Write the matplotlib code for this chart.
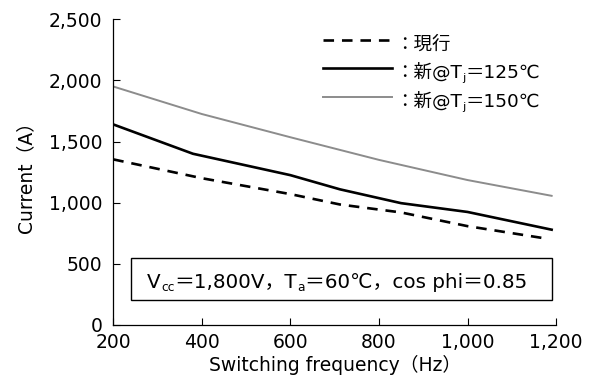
import matplotlib
matplotlib.use("Agg")
import matplotlib.pyplot as plt
from matplotlib.patches import Rectangle

plt.rcParams['font.family'] = ['DejaVu Sans', 'Noto Sans CJK JP']

# Switching frequency (Hz) and allowable output current (A)
freq_current = [200, 400, 600, 712, 850, 1000, 1180]
current_now = [1354, 1200, 1070, 985, 920, 808, 705]

freq_125 = [200, 380, 600, 712, 850, 1000, 1190]
current_125 = [1640, 1400, 1225, 1109, 996, 924, 779]

freq_150 = [200, 400, 600, 800, 1000, 1190]
current_150 = [1950, 1725, 1535, 1350, 1185, 1056]

xticks = [200, 400, 600, 800, 1000, 1200]
yticks = [0, 500, 1000, 1500, 2000, 2500]

DASH = (0, (4, 3))
GREY = '#8c8c8c'

fig = plt.figure(figsize=(5.96, 3.85), dpi=100)
ax = fig.add_axes([0.19, 0.156, 0.743, 0.794])

ax.plot(freq_current, current_now, color='black', lw=1.9, ls=DASH)
ax.plot(freq_125, current_125, color='black', lw=1.9)
ax.plot(freq_150, current_150, color=GREY, lw=1.4)

ax.set_xlim(200, 1200)
ax.set_ylim(0, 2500)
ax.set_xticks(xticks)
ax.set_xticklabels([f"{v:,}" for v in xticks])
ax.set_yticks(yticks)
ax.set_yticklabels([f"{v:,}" for v in yticks])
ax.tick_params(direction='in', length=5, width=0.8, labelsize=13.5)
ax.tick_params(axis='x', pad=6)
ax.tick_params(axis='y', pad=8)
for s in ['top', 'right']:
    ax.spines[s].set_visible(False)
for s in ['left', 'bottom']:
    ax.spines[s].set_linewidth(0.9)

ax.set_xlabel('Switching frequency（Hz）', fontsize=13.5, labelpad=2)
ax.set_ylabel('Current（A）', fontsize=13.5, labelpad=10)


def rich_text(x, y, parts, size):
    """Write a run of text pieces on one baseline; pieces flagged True are subscripts."""
    prev = None
    for txt, sub in parts:
        fs = size * 0.62 if sub else size
        dy = -2.5 if sub else 0
        if prev is None:
            prev = ax.annotate(txt, xy=(x, y), xycoords='axes fraction',
                               xytext=(0, dy), textcoords='offset points',
                               fontsize=fs, ha='left', va='baseline')
        else:
            prev = ax.annotate(txt, xy=(1.0, y), xycoords=(prev, 'axes fraction'),
                               xytext=(0, dy), textcoords='offset points',
                               fontsize=fs, ha='left', va='baseline')
    return prev


# Legend
legend_rows = [
    (dict(color='black', lw=1.9, ls=DASH), [('：現行', False)]),
    (dict(color='black', lw=1.9),
     [('：新@T', False), ('j', True), ('＝125℃', False)]),
    (dict(color=GREY, lw=1.4),
     [('：新@T', False), ('j', True), ('＝150℃', False)]),
]
row_y = [0.933, 0.842, 0.747]
for (style, parts), yy in zip(legend_rows, row_y):
    ax.plot([0.474, 0.630], [yy, yy], transform=ax.transAxes, **style)
    rich_text(0.636, yy - 0.032, parts, 13.3)

# Operating condition box
ax.add_patch(Rectangle((0.041, 0.082), 0.950, 0.137, transform=ax.transAxes,
                       facecolor='white', edgecolor='black', lw=1.0, zorder=3,
                       clip_on=False))
cond = [('V', False), ('cc', True), ('＝1,800V，T', False), ('a', True),
        ('＝60℃，cos phi＝0.85', False)]
rich_text(0.077, 0.122, cond, 14.3)
for a in ax.texts:
    a.set_zorder(4)

fig.savefig('out.png', dpi=100)
